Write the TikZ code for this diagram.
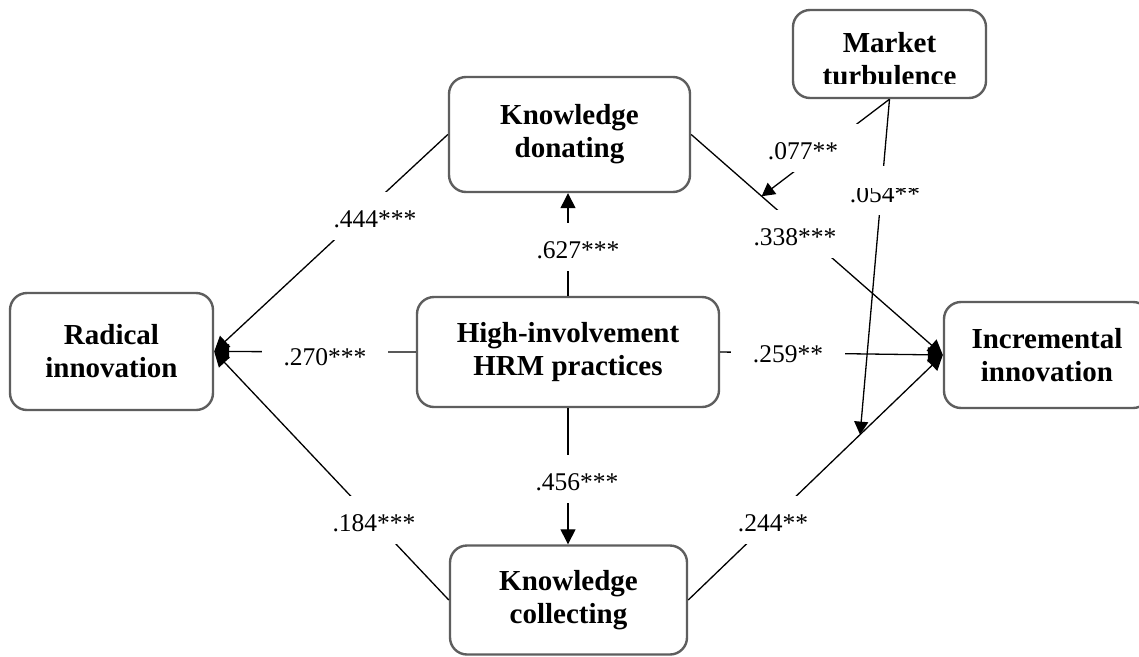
\documentclass[tikz,border=0pt]{standalone}
\usepackage{fontspec}
\setmainfont{Liberation Serif}
\usetikzlibrary{arrows.meta,calc}
\definecolor{boxgray}{HTML}{5E5E5E}
\begin{document}
\begin{tikzpicture}[x=1pt,y=-1pt,
  boxtext/.style={align=center, inner sep=0pt, font=\bfseries\fontsize{29}{33}\selectfont},
  box/.style={boxtext, draw=boxgray, line width=2.4pt, rounded corners=17pt, fill=white},
  lbl/.style={fill=white, inner xsep=22pt, inner ysep=13pt, text height=22pt, text depth=0pt, font=\fontsize{25.5}{28}\selectfont, anchor=base},
  conn/.style={line width=1.3pt},
  arr/.style={conn, -{Triangle[length=15pt,width=15pt]}},
  arrs/.style={conn, -{Triangle[length=13pt,width=14pt]}},
  ]
\fill[white] (0,0) rectangle (1139,656);
\useasboundingbox (0,0) rectangle (1139,656);

% boxes
\node[box, minimum width=203pt, minimum height=117pt] (rad) at (111.5,351.5) {Radical\\innovation};
\node[box, minimum width=241pt, minimum height=115pt] (kd) at (569.5,134.5) {Knowledge\\donating};
\node[box, minimum width=302pt, minimum height=110pt] (hrm) at (568,352) {High-involvement\\HRM practices};
\node[box, minimum width=206pt, minimum height=106pt] (inc) at (1047,355) {Incremental\\innovation};
\node[box, minimum width=237pt, minimum height=109pt] (kc) at (568.5,600) {Knowledge\\collecting};
\node[box, minimum width=193pt, minimum height=88pt] (mt) at (889.5,54) {};
\node[boxtext] (mttext) at (889.5,59) {Market\\turbulence};
\fill[white] (815,84) rectangle (965,95.5);

% connectors
\draw[arr] (kd.west) -- (rad.east);
\draw[arr] (hrm.west) -- (rad.east);
\draw[arr] (kc.west) -- (rad.east);
\draw[arr] (hrm.north) -- (hrm.north |- kd.south);
\draw[arr] (hrm.south) -- (hrm.south |- kc.north);
\draw[arr] (kd.east) -- (inc.west);
\draw[arr] (hrm.east) -- (inc.west);
\draw[arr] (kc.east) -- (inc.west);
\coordinate (m1) at ($(kd.east)!0.28!(inc.west)$);
\coordinate (m2) at ($(kc.east)!0.675!(inc.west)$);
\draw[arrs] (mt.south) -- (m1);
\draw[arrs] (mt.south) -- (m2);

% labels
\node[lbl] (l444) at (375,227) {.444***};
\node[lbl] (l270) at (325,365) {.270***};
\node[lbl] (l184) at (374,531) {.184***};
\node[lbl] (l627) at (578,258) {.627***};
\node[lbl] (l456) at (577,490) {.456***};
\node[lbl] (l259) at (788,362) {.259**};
\node[lbl] (l338) at (795,245) {.338***};
\node[lbl] (l244) at (773,531) {.244**};
\node[lbl] (l054) at (885,202) {.054**};
\node[lbl] (l077) at (803,159) {.077**};
\fill[white] (835,166) rectangle (935,187.5);
\end{tikzpicture}
\end{document}
